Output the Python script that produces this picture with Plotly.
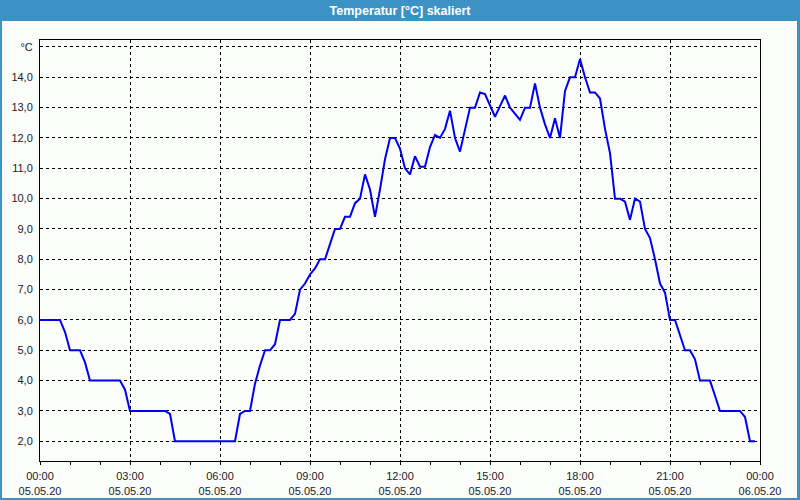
import pandas as pd
import plotly.graph_objects as go

# ---- data (10-minute readings, 05.05.20 00:00 .. 23:50) ----
start_time = "2020-05-05 00:00"
temperature = [
    6.0, 6.0, 6.0, 6.0, 6.0, 5.6, 5.0, 5.0, 5.0, 4.6,
    4.0, 4.0, 4.0, 4.0, 4.0, 4.0, 4.0, 3.7, 3.0, 3.0,
    3.0, 3.0, 3.0, 3.0, 3.0, 3.0, 2.9, 2.0, 2.0, 2.0,
    2.0, 2.0, 2.0, 2.0, 2.0, 2.0, 2.0, 2.0, 2.0, 2.0,
    2.9, 3.0, 3.0, 3.9, 4.5, 5.0, 5.0, 5.2, 6.0, 6.0,
    6.0, 6.2, 7.0, 7.2, 7.5, 7.7, 8.0, 8.0, 8.5, 9.0,
    9.0, 9.4, 9.4, 9.85, 10.0, 10.8, 10.3, 9.4, 10.3, 11.3,
    12.0, 12.0, 11.65, 11.0, 10.8, 11.4, 11.05, 11.05, 11.7, 12.1,
    12.0, 12.3, 12.9, 12.0, 11.55, 12.3, 13.0, 13.0, 13.5, 13.45,
    13.05, 12.7, 13.05, 13.4, 13.0, 12.8, 12.6, 13.0, 13.0, 13.8,
    13.0, 12.45, 12.0, 12.65, 12.0, 13.55, 14.0, 14.0, 14.6, 14.0,
    13.5, 13.5, 13.3, 12.3, 11.5, 10.0, 10.0, 9.9, 9.3, 10.0,
    9.9, 9.0, 8.7, 8.0, 7.2, 6.9, 6.0, 6.0, 5.5, 5.0,
    5.0, 4.7, 4.0, 4.0, 4.0, 3.5, 3.0, 3.0, 3.0, 3.0,
    3.0, 2.8, 2.0, 2.0,
]
times = pd.date_range(start_time, periods=len(temperature), freq="10min")

y_tickvals = [2, 3, 4, 5, 6, 7, 8, 9, 10, 11, 12, 13, 14, 15]
y_ticktext = ["2,0", "3,0", "4,0", "5,0", "6,0", "7,0", "8,0", "9,0",
              "10,0", "11,0", "12,0", "13,0", "14,0", "°C"]
title_text = "Temperatur [°C] skaliert"

# ---- layout constants ----
W, H = 800, 500
ML, MR, MT, MB = 40, 40, 40, 39
PW, PH = W - ML - MR, H - MT - MB
BAR_H = 21
BLUE = "#3c92c5"
BG = "#fbfdfb"
FONT = "Liberation Sans"

def px_x(p):  # pixel -> paper x
    return (p - ML) / PW

def px_y(p):  # pixel (from top) -> paper y
    return (H - MB - p) / PH

fig = go.Figure()
fig.add_trace(go.Scatter(
    x=times, y=temperature, mode="lines",
    line=dict(color="#0000ee", width=2),
    hoverinfo="skip", showlegend=False,
))

shapes = [
    # title bar
    dict(type="rect", xref="paper", yref="paper", layer="above",
         x0=px_x(0), x1=px_x(W), y0=px_y(BAR_H), y1=px_y(0),
         fillcolor=BLUE, line=dict(width=0)),
    # window borders
    dict(type="rect", xref="paper", yref="paper", layer="above",
         x0=px_x(0), x1=px_x(2), y0=px_y(H), y1=px_y(0),
         fillcolor=BLUE, line=dict(width=0)),
    dict(type="rect", xref="paper", yref="paper", layer="above",
         x0=px_x(W - 3), x1=px_x(W), y0=px_y(H), y1=px_y(0),
         fillcolor=BLUE, line=dict(width=0)),
    dict(type="rect", xref="paper", yref="paper", layer="above",
         x0=px_x(0), x1=px_x(W), y0=px_y(H), y1=px_y(H - 2),
         fillcolor=BLUE, line=dict(width=0)),
]

fig.update_layout(
    width=W, height=H,
    margin=dict(l=ML, r=MR, t=MT, b=MB, pad=0, autoexpand=False),
    paper_bgcolor=BG, plot_bgcolor=BG,
    font=dict(family=FONT, size=11, color="#1a1a2a"),
    title=dict(text="<b>" + title_text + "</b>", x=0.5, xanchor="center",
               xref="paper", y=1 - (BAR_H / 2) / H, yanchor="middle",
               yref="container", automargin=False,
               font=dict(family=FONT, size=12.5, color="white")),
    shapes=shapes,
    xaxis=dict(
        type="date", automargin=False,
        range=["2020-05-05 00:00", "2020-05-06 00:00"],
        tick0="2020-05-05 00:00", dtick=3 * 3600 * 1000,
        tickformat="%H:%M<br>%d.%m.%y",
        ticks="outside", ticklen=3, tickcolor="black",
        ticklabelstandoff=2,
        minor=dict(dtick=3600 * 1000, ticks="outside", ticklen=3,
                   tickcolor="black", showgrid=False),
        showgrid=True, gridcolor="black", gridwidth=1, griddash="3px,3px",
        showline=True, linecolor="black", linewidth=1, mirror=True,
        zeroline=False, fixedrange=True,
    ),
    yaxis=dict(
        range=[1.35, 15.23], automargin=False,
        tickvals=y_tickvals, ticktext=y_ticktext,
        ticks="", ticklabelstandoff=4,
        showgrid=True, gridcolor="black", gridwidth=1, griddash="3px,3px",
        showline=True, linecolor="black", linewidth=1, mirror=True,
        zeroline=False, fixedrange=True,
    ),
)

fig.write_html("out.html")
